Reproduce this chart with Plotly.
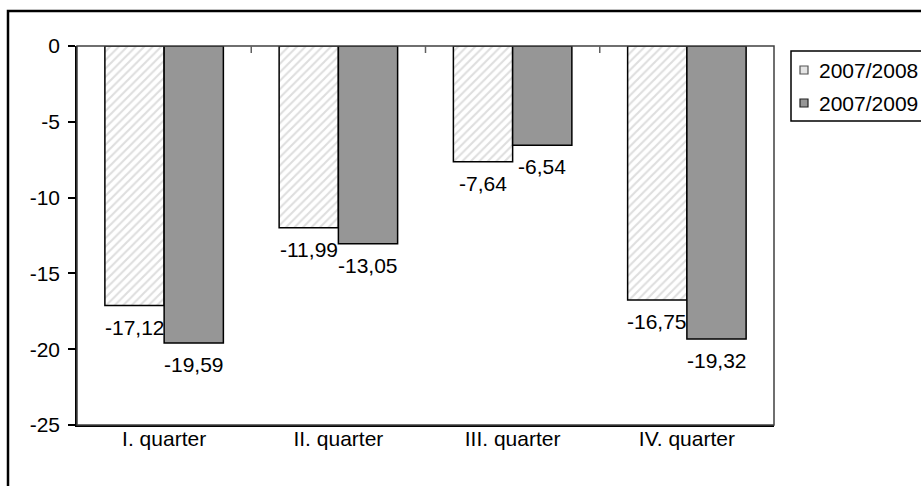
import plotly.graph_objects as go

# Quarterly change, two comparison periods
categories = ["I. quarter", "II. quarter", "III. quarter", "IV. quarter"]
series_names = ["2007/2008", "2007/2009"]
values_2008 = [-17.12, -11.99, -7.64, -16.75]
values_2009 = [-19.59, -13.05, -6.54, -19.32]
y_ticks = [0, -5, -10, -15, -20, -25]

FONT = "Liberation Sans, Arial, sans-serif"
FS = 21
BARGAP = 0.32
HATCH_FILL = "white"
DARK_FILL = "#969696"

W, H = 921, 486
ML, MR, MT, MB = 77, 147, 46, 61
PW, PH = W - ML - MR, H - MT - MB


def px_x(p):
    """pixel column -> paper x"""
    return (p - ML) / PW


def px_y(p):
    """pixel row -> paper y"""
    return (H - MB - p) / PH


def fmt(v):
    return f"{v:.2f}".replace(".", ",")


fig = go.Figure()
fig.add_trace(go.Bar(
    name=series_names[0], x=categories, y=values_2008, showlegend=False,
    marker=dict(color=HATCH_FILL, line=dict(color="black", width=1.5),
                pattern=dict(shape="/", fgcolor="#bdbdbd", bgcolor="white",
                             size=6, solidity=0.35)),
))
fig.add_trace(go.Bar(
    name=series_names[1], x=categories, y=values_2009, showlegend=False,
    marker=dict(color=DARK_FILL, line=dict(color="black", width=1.5)),
))

# value labels under each bar end
half = (1 - BARGAP) / 2
annotations = []
for k, vals in enumerate([values_2008, values_2009]):
    off = (-0.5 + k) * half
    for i, v in enumerate(vals):
        annotations.append(dict(
            x=i + off, y=v, xref="x", yref="y", text=fmt(v), showarrow=False,
            yanchor="top", xanchor="center", yshift=-8,
            font=dict(family=FONT, size=FS, color="black")))

px_per_unit = PH / (max(y_ticks) - min(y_ticks))
shapes = [
    # outer chart frame
    dict(type="rect", xref="paper", yref="paper",
         x0=px_x(8), x1=px_x(W + 20), y0=px_y(H + 20), y1=px_y(11),
         line=dict(color="black", width=2.5), fillcolor="rgba(0,0,0,0)", layer="below"),
    # plot area border
    dict(type="rect", xref="paper", yref="paper", x0=0, x1=1, y0=0, y1=1,
         line=dict(color="#404040", width=1.5), fillcolor="rgba(0,0,0,0)"),
    # legend box
    dict(type="rect", xref="paper", yref="paper",
         x0=px_x(791), x1=px_x(W + 20), y0=px_y(121), y1=px_y(51),
         line=dict(color="black", width=1.5), fillcolor="white"),
]
# category boundary ticks on the zero line
for i in range(1, len(categories)):
    shapes.append(dict(type="line", xref="x", yref="y", x0=i - 0.5, x1=i - 0.5,
                       y0=0, y1=-7 / px_per_unit,
                       line=dict(color="#606060", width=1.5)))

# legend entries
legend_rows = [70, 103]
legend_fills = [("#e4e4e4", "#555555"), (DARK_FILL, "#222222")]
for name, row, (fill, edge) in zip(series_names, legend_rows, legend_fills):
    shapes.append(dict(type="rect", xref="paper", yref="paper",
                       x0=px_x(800), x1=px_x(808), y0=px_y(row + 4), y1=px_y(row - 4),
                       line=dict(color=edge, width=1.2), fillcolor=fill))
    annotations.append(dict(x=px_x(817), y=px_y(row), xref="paper", yref="paper",
                            text=name, showarrow=False, xanchor="left", yanchor="middle",
                            font=dict(family=FONT, size=FS, color="black")))

fig.update_layout(
    width=W, height=H,
    margin=dict(l=ML, r=MR, t=MT, b=MB, pad=0),
    paper_bgcolor="white", plot_bgcolor="white",
    barmode="group", bargap=BARGAP, bargroupgap=0,
    font=dict(family=FONT, size=FS, color="black"),
    showlegend=False,
    xaxis=dict(showgrid=False, showline=True, linecolor="black", linewidth=1.5,
               ticks="", tickfont=dict(family=FONT, size=FS), ticklabelstandoff=-6),
    yaxis=dict(range=[min(y_ticks), max(y_ticks)], tickvals=y_ticks,
               ticktext=[str(t) for t in y_ticks], showgrid=False, zeroline=False,
               showline=True, linecolor="black", linewidth=1.5,
               ticks="outside", ticklen=7, tickcolor="black", tickwidth=1.5,
               tickfont=dict(family=FONT, size=FS), ticklabelstandoff=4),
    annotations=annotations,
    shapes=shapes,
)

fig.write_html("out.html")
